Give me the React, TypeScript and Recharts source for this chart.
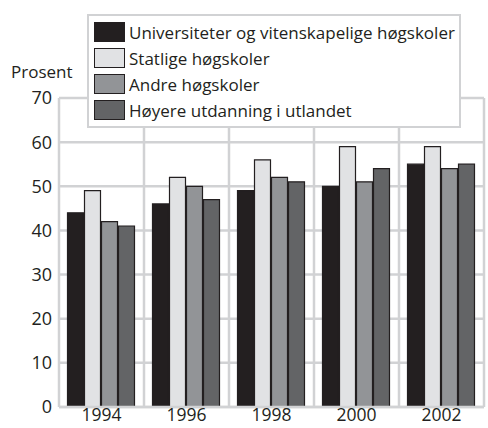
import { BarChart, Bar, XAxis, YAxis, CartesianGrid } from "recharts";

const years = ["1994", "1996", "1998", "2000", "2002"];
const universiteter = [44, 46, 49, 50, 55];
const statlige = [49, 52, 56, 59, 59];
const andre = [42, 50, 52, 51, 54];
const utlandet = [41, 47, 51, 54, 55];
const yTicks = [0, 10, 20, 30, 40, 50, 60, 70];

const series = [
  { key: "universiteter", name: "Universiteter og vitenskapelige høgskoler", color: "#231f20" },
  { key: "statlige", name: "Statlige høgskoler", color: "#e1e2e4" },
  { key: "andre", name: "Andre høgskoler", color: "#929497" },
  { key: "utlandet", name: "Høyere utdanning i utlandet", color: "#636466" },
];

const data = years.map((year, i) => ({
  year,
  universiteter: universiteter[i],
  statlige: statlige[i],
  andre: andre[i],
  utlandet: utlandet[i],
}));

const font = "'Open Sans', 'DejaVu Sans', sans-serif";
const textColor = "#231f20";
const gridColor = "#d1d2d4";

function LegendBox() {
  return (
    <div
      style={{
        position: "absolute",
        left: 87,
        top: 14,
        width: 374,
        background: "#fff",
        border: `2px solid ${gridColor}`,
        padding: "3px 4px 3px 5px",
        fontFamily: font,
        fontSize: 17,
        color: textColor,
        boxSizing: "border-box",
      }}
    >
      {series.map((s) => (
        <div key={s.key} style={{ display: "flex", alignItems: "center", height: 26 }}>
          <span
            style={{
              display: "inline-block",
              width: 31,
              height: 20,
              background: s.color,
              border: `1.5px solid ${textColor}`,
              marginRight: 4,
              boxSizing: "border-box",
            }}
          />
          <span>{s.name}</span>
        </div>
      ))}
    </div>
  );
}

export default function App() {
  return (
    <div style={{ position: "absolute", left: 0, top: 0, width: 488, height: 428, background: "#fff" }}>
      <BarChart
        width={488}
        height={428}
        data={data}
        margin={{ top: 98, right: 4, left: 0, bottom: 0 }}
        barCategoryGap="10%"
        barGap={1}
      >
        <CartesianGrid
          stroke={gridColor}
          strokeWidth={2.5}
          verticalCoordinatesGenerator={({ offset }: any) =>
            years.map((_, i) => offset.left + ((i + 1) * offset.width) / years.length)
          }
        />
        <XAxis
          dataKey="year"
          height={21}
          axisLine={{ stroke: gridColor, strokeWidth: 2.5 }}
          tickLine={false}
          tickSize={0}
          tickMargin={2}
          tick={{ fill: textColor, fontSize: 17.5, fontFamily: font }}
        />
        <YAxis
          width={59}
          domain={[0, 70]}
          ticks={yTicks}
          interval={0}
          axisLine={{ stroke: gridColor, strokeWidth: 2.5 }}
          tickLine={false}
          tickSize={0}
          tickMargin={7}
          tick={{ fill: textColor, fontSize: 18, fontFamily: font }}
        />
        {series.map((s) => (
          <Bar
            key={s.key}
            dataKey={s.key}
            name={s.name}
            fill={s.color}
            stroke={textColor}
            strokeWidth={1.2}
            isAnimationActive={false}
          />
        ))}
      </BarChart>
      <div
        style={{
          position: "absolute",
          left: 11,
          top: 62,
          fontFamily: font,
          fontSize: 17,
          color: textColor,
          lineHeight: "20px",
        }}
      >
        Prosent
      </div>
      <LegendBox />
    </div>
  );
}
